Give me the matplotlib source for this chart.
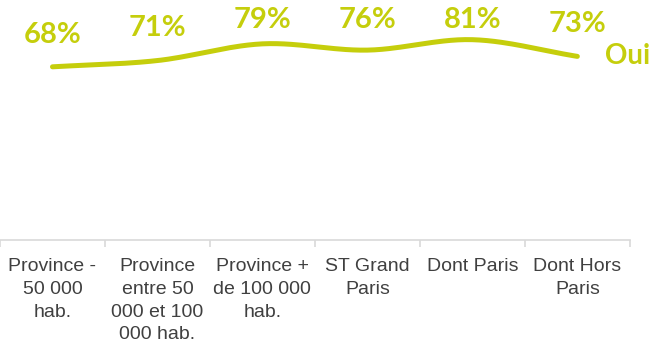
import matplotlib.pyplot as plt
import numpy as np

categories = ['Province -\n50 000\nhab.', 'Province\nentre 50\n000 et 100\n000 hab.',
              'Province +\nde 100 000\nhab.', 'ST Grand\nParis', 'Dont Paris', 'Dont Hors\nParis']
oui = [68, 71, 79, 76, 81, 73]
series_name = 'Oui'

green = '#C5CE0C'
grey_txt = '#404040'


# smooth curve through the points (Catmull-Rom, like a spreadsheet "smoothed line")
def smooth(xs, ys, n=30):
    xs = np.asarray(xs, float)
    ys = np.asarray(ys, float)
    px = np.concatenate([[2 * xs[0] - xs[1]], xs, [2 * xs[-1] - xs[-2]]])
    py = np.concatenate([[2 * ys[0] - ys[1]], ys, [2 * ys[-1] - ys[-2]]])
    out_x, out_y = [], []
    t = np.linspace(0, 1, n)
    for i in range(1, len(px) - 2):
        for p, out in ((px, out_x), (py, out_y)):
            p0, p1, p2, p3 = p[i - 1], p[i], p[i + 1], p[i + 2]
            out.extend(0.5 * ((2 * p1) + (-p0 + p2) * t
                              + (2 * p0 - 5 * p1 + 4 * p2 - p3) * t ** 2
                              + (-p0 + 3 * p1 - 3 * p2 + p3) * t ** 3))
    return out_x, out_y


fig = plt.figure(figsize=(6.52, 3.45), dpi=100)
ax = fig.add_axes([0.0, 0.304, 0.966, 0.696])

x = np.arange(len(oui))
sx, sy = smooth(x, oui)
ax.plot(sx, sy, color=green, lw=3.6, solid_capstyle='round')

# labels sit above the points, but are held below the top edge
for xi, v in zip(x, oui):
    ax.text(xi, min(v + 15.4, 90.4), f'{v}%', ha='center', va='center',
            fontsize=21, fontweight='bold', color=green, family='Lato')
ax.annotate(series_name, (x[-1], oui[-1]), xytext=(20, 0), textcoords='offset points',
            ha='left', va='center', fontsize=20, fontweight='bold', color=green,
            family='Lato', annotation_clip=False)

ax.set_xlim(-0.5, len(oui) - 0.5)
ax.set_ylim(-15, 100)
ax.set_yticks([])
for s in ('top', 'right', 'left'):
    ax.spines[s].set_visible(False)
ax.spines['bottom'].set_color('#D9D9D9')
ax.spines['bottom'].set_linewidth(1.2)

ax.set_xticks(x)
ax.set_xticklabels(categories, fontsize=14, color=grey_txt, family='Liberation Sans',
                   linespacing=1.44)
ax.tick_params(axis='x', which='major', length=0, pad=13)
ax.set_xticks(np.arange(-0.5, len(oui)), minor=True)
ax.tick_params(axis='x', which='minor', length=5, color='#D9D9D9', width=1.2)

fig.savefig('out.png', dpi=100)
